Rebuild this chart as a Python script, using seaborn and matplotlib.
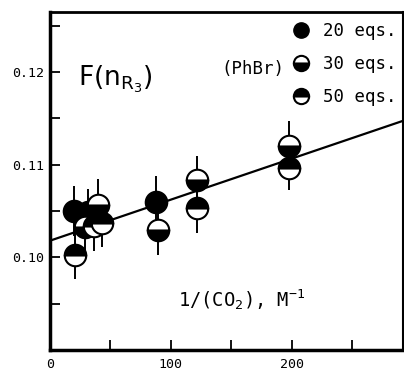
import seaborn as sns
import matplotlib.pyplot as plt
from matplotlib.lines import Line2D
from matplotlib.ticker import MultipleLocator, FuncFormatter

# 20 eqs. (filled)
x_20 = [20, 31, 88]
y_20 = [0.1050, 0.1049, 0.1060]
err_20 = [0.0027, 0.0025, 0.0028]

# 30 eqs. (upper half open, lower half filled)
x_30 = [29, 40, 89, 122, 198]
y_30 = [0.1033, 0.1057, 0.1029, 0.1083, 0.1120]
err_30 = [0.0026, 0.0028, 0.0027, 0.0026, 0.0027]

# 50 eqs. (upper half filled, lower half open)
x_50 = [21, 36, 43, 122, 198]
y_50 = [0.1002, 0.1034, 0.1037, 0.1053, 0.1097]
err_50 = [0.0025, 0.0027, 0.0026, 0.0027, 0.0024]

# least squares line
fit_intercept = 0.1018
fit_slope = 0.0000443

sns.set_style('ticks')
plt.rcParams['font.family'] = ['DejaVu Sans Mono']
plt.rcParams['xtick.direction'] = 'in'
plt.rcParams['ytick.direction'] = 'in'
plt.rcParams['text.color'] = 'black'
plt.rcParams['axes.edgecolor'] = 'black'
plt.rcParams['xtick.color'] = 'black'
plt.rcParams['ytick.color'] = 'black'

fig = plt.figure(figsize=(4.04, 3.75), dpi=100)
ax = fig.add_axes([0.124, 0.067, 0.873, 0.901])

ms = 15.5
ax.axline((0, fit_intercept), slope=fit_slope, color='black', lw=1.6, zorder=1)

ax.errorbar(x_20, y_20, yerr=err_20, fmt='o', color='black', ms=ms,
            mfc='black', mec='black', mew=1.5, elinewidth=1.4, capsize=0, zorder=3)
ax.errorbar(x_30, y_30, yerr=err_30, fmt='o', color='black', ms=ms, fillstyle='bottom',
            mfc='black', mfcalt='white', mec='black', mew=1.5, elinewidth=1.4, capsize=0, zorder=3)
ax.errorbar(x_50, y_50, yerr=err_50, fmt='o', color='black', ms=ms, fillstyle='top',
            mfc='black', mfcalt='white', mec='black', mew=1.5, elinewidth=1.4, capsize=0, zorder=3)

ax.set_xlim(0, 292)
ax.set_ylim(0.09, 0.1265)

ax.xaxis.set_major_locator(MultipleLocator(50))
ax.xaxis.set_major_formatter(FuncFormatter(lambda v, p: '%d' % v if v % 100 == 0 else ''))
ax.yaxis.set_major_locator(MultipleLocator(0.005))
ax.yaxis.set_major_formatter(FuncFormatter(
    lambda v, p: '%.2f' % v if abs(round(v * 100) - v * 100) < 1e-6 and v > 0.095 else ''))
ax.tick_params(axis='both', length=7, width=1.3, labelsize=9.5, pad=6)
ax.tick_params(axis='y', pad=4)

for s in ax.spines.values():
    s.set_linewidth(2.5)
ax.spines['top'].set_linewidth(2)
ax.spines['right'].set_linewidth(1.5)

ax.text(0.08, 0.80, r'F(n$_{\mathregular{R_3}}$)', transform=ax.transAxes,
        family='DejaVu Sans', fontsize=19, va='center', ha='left')
ax.text(0.363, 0.15, r'1/(CO$_\mathregular{2}$), M$^{\mathregular{-1}}$', transform=ax.transAxes,
        fontsize=13.5, va='center', ha='left')
ax.text(0.665, 0.83, '(PhBr)', transform=ax.transAxes, fontsize=12.5, va='center', ha='right')

handles = [
    Line2D([], [], ls='', marker='o', ms=11, mfc='black', mec='black'),
    Line2D([], [], ls='', marker='o', ms=11, fillstyle='bottom', mfc='black', mfcalt='white', mec='black', mew=1.5),
    Line2D([], [], ls='', marker='o', ms=11, fillstyle='top', mfc='black', mfcalt='white', mec='black', mew=1.5),
]
ax.legend(handles, ['20 eqs.', '30 eqs.', '50 eqs.'], loc='upper right', bbox_to_anchor=(1.012, 1.0),
          frameon=False, fontsize=12.5, handlelength=1.0, handletextpad=0.75, labelspacing=0.85,
          borderaxespad=0.2)

fig.savefig('out.png', dpi=100)
